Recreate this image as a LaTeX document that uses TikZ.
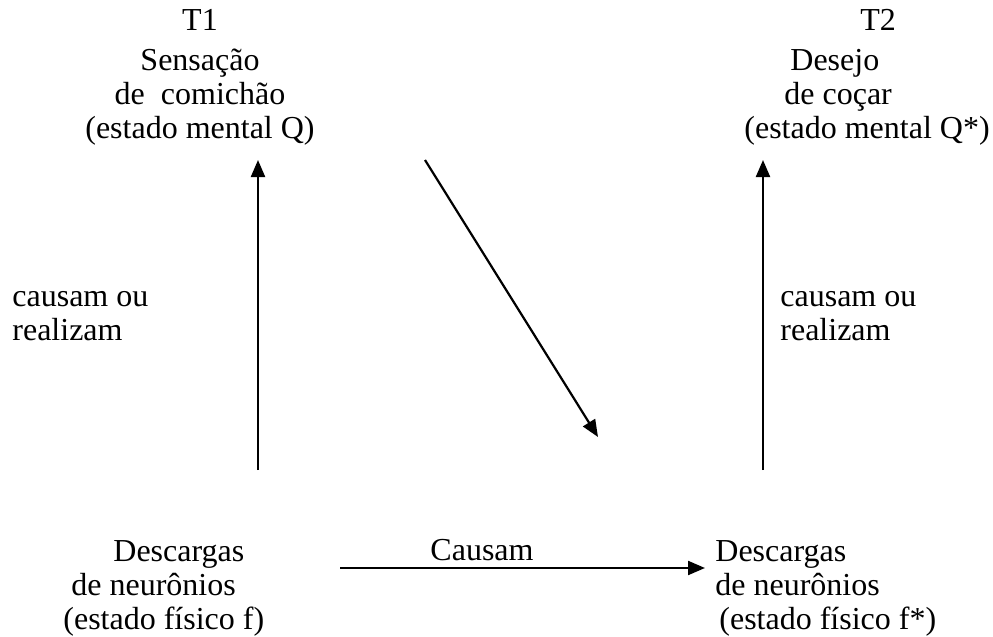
\documentclass[tikz,border=0pt]{standalone}
\usepackage{fontspec}
\setmainfont{Liberation Serif}
\usetikzlibrary{arrows.meta, positioning}

\tikzset{
  txt/.style={inner sep=0pt, font=\fontsize{16}{17}\selectfont},
  cause/.style={line width=1.1pt, -{Triangle[length=8.5pt,width=7pt]}}
}

\begin{document}
\begin{tikzpicture}[x=0.5pt, y=-0.5pt]
\useasboundingbox (0,0) rectangle (993,637);

% Mental states
\node[txt, align=center] (qmental) at (200,77)
    {T1\\[3pt]Sensação\\de\ \ comichão\\(estado mental Q)};
\node[txt, align=left, anchor=west] (qstar) at (744,77)
    {\hspace*{58pt}T2\\[3pt]\hspace*{23pt}Desejo\\\hspace*{20pt}de coçar\\(estado mental Q*)};

% Physical states
\node[txt, align=left, anchor=west] (fphys) at (63,588)
    {\hspace*{25pt}Descargas\\\hspace*{4pt}de neurônios\\(estado físico f)};
\node[txt, align=left, anchor=west] (fstar) at (715,588)
    {Descargas\\de neurônios\\\hspace*{2pt}(estado físico f*)};

% Labels
\node[txt, align=left, anchor=west] (realL) at (12,316) {causam ou\\realizam};
\node[txt, align=left, anchor=west] (realR) at (780,316) {causam ou\\realizam};
\node[txt] (causam) at (482,550) {Causam};

% Arrow ends
\coordinate (fUp) at (258,470);
\coordinate (qDown) at (258,160);
\coordinate (fsUp) at (763,470);
\coordinate (qsDown) at (763,160);
\coordinate (diagA) at (425,160);
\coordinate (diagB) at (598,437);
\coordinate (horA) at (340,568);
\coordinate (horB) at (705,568);

% Arrows
\draw[cause] (fUp) -- (qDown);
\draw[cause] (fsUp) -- (qsDown);
\draw[cause] (diagA) -- (diagB);
\draw[cause] (horA) -- (horB);

\end{tikzpicture}
\end{document}
